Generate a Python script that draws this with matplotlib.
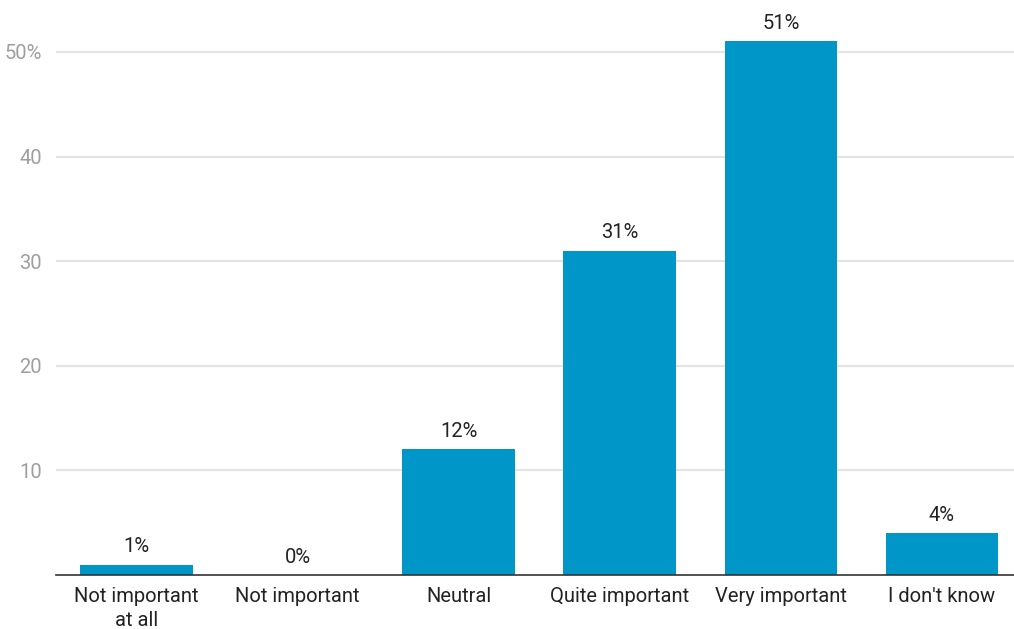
import matplotlib
matplotlib.use("Agg")
import matplotlib.pyplot as plt

categories = ["Not important\nat all", "Not important", "Neutral",
              "Quite important", "Very important", "I don't know"]
values = [1, 0, 12, 31, 51, 4]
yticks = [10, 20, 30, 40, 50]
ytick_labels = ["10", "20", "30", "40", "50%"]

plt.rcParams["font.family"] = ["Roboto", "DejaVu Sans"]

fig = plt.figure(figsize=(10.14, 6.29), dpi=100)
ax = fig.add_axes([56 / 1014, (629 - 575) / 629, (1014 - 56) / 1014, (575 - 8) / 629])

x = list(range(len(categories)))
ax.bar(x, values, width=0.70, color="#0096c8", zorder=3)

for xi, v in zip(x, values):
    ax.annotate(f"{v}%", (xi, v), xytext=(0, 6), textcoords="offset points",
                ha="center", va="bottom", fontsize=14.5, color="#222222")

ax.set_xlim(-0.5, 5.447)
ax.set_ylim(0, 54.2)
ax.set_yticks(yticks)
ax.set_yticklabels(ytick_labels)
ax.set_xticks(x)
ax.set_xticklabels(categories, fontsize=14.5, color="#222222", linespacing=1.3)

ax.tick_params(axis="y", length=0, pad=10, labelsize=14.5, labelcolor="#9e9e9e")
ax.tick_params(axis="x", length=0, pad=9)

ax.grid(axis="y", color="#e3e3e3", linewidth=1.5, zorder=0)
for side in ["top", "right", "left"]:
    ax.spines[side].set_visible(False)
ax.spines["bottom"].set_color("#333333")
ax.spines["bottom"].set_linewidth(1.2)
ax.spines["bottom"].set_zorder(4)

fig.savefig("out.png", dpi=100)
